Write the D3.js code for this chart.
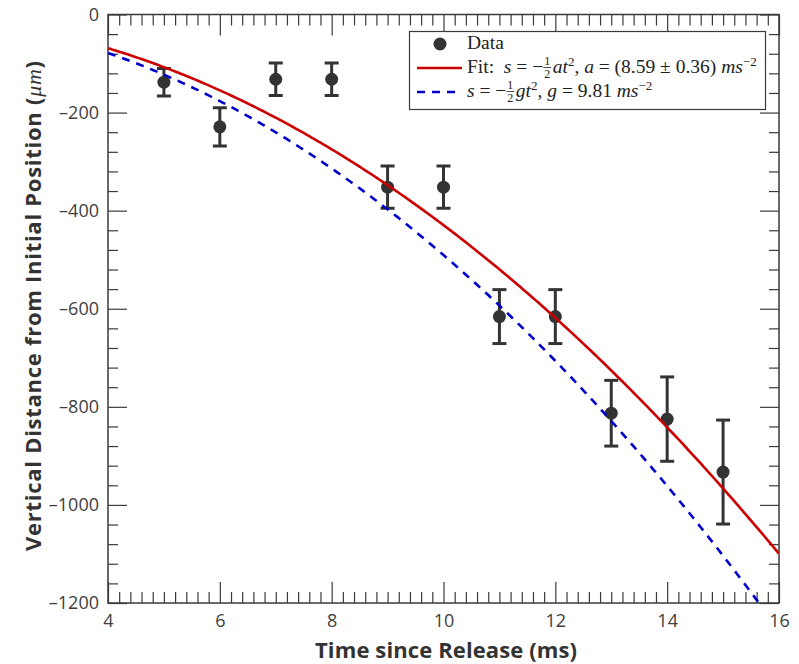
<!DOCTYPE html>
<html>
<head>
<meta charset="utf-8">
<script src="https://cdn.jsdelivr.net/npm/d3@7"></script>
<style>
  body { margin: 0; background: #fff; }
  svg { display: block; }
</style>
</head>
<body>
<svg id="chart" width="799" height="664"></svg>
<script>
// measured points (time in ms, position in um, error bar half-height in um)
var times = [5, 6, 7, 8, 9, 10, 11, 12, 13, 14, 15];
var positions = [-138, -229, -132, -132, -352, -352, -616, -616, -813, -825, -933];
var errors = [28, 39, 33, 33, 43, 43, 55, 55, 67, 86, 106];

// fit parameters from the legend (m/s^2)
var aFit = 8.59;
var gStd = 9.81;

var xTicks = [4, 6, 8, 10, 12, 14, 16];
var yTicks = [0, -200, -400, -600, -800, -1000, -1200];

var svg = d3.select("#chart");

var x = d3.scaleLinear().domain([4, 16]).range([108, 779]);
var y = d3.scaleLinear().domain([-1200, 0]).range([603, 14.5]);

var axisColor = "#3a3a3a";

// minor ticks
var xMinor = d3.range(4, 16.001, 0.2).filter(function (v) { return Math.abs(v / 2 - Math.round(v / 2)) > 1e-6; });
var yMinor = d3.range(-1200, 0.001, 40).filter(function (v) { return v % 200 != 0; });

function styleAxis(g) {
  g.select(".domain").remove();
  g.selectAll("line").attr("stroke", axisColor).attr("stroke-width", 1.2);
  g.selectAll("text").attr("fill", "#404040").style("font-family", "'Open Sans', sans-serif").style("font-size", "18px");
}

// bottom
svg.append("g").attr("transform", "translate(0,603)")
  .call(d3.axisBottom(x).tickValues(xTicks).tickSize(-21).tickPadding(11).tickFormat(d3.format("d")))
  .call(styleAxis);
svg.append("g").attr("transform", "translate(0,603)")
  .call(d3.axisBottom(x).tickValues(xMinor).tickSize(-11).tickFormat(""))
  .call(styleAxis);
// top
svg.append("g").attr("transform", "translate(0,14.5)")
  .call(d3.axisTop(x).tickValues(xTicks).tickSize(-21).tickFormat(""))
  .call(styleAxis);
svg.append("g").attr("transform", "translate(0,14.5)")
  .call(d3.axisTop(x).tickValues(xMinor).tickSize(-11).tickFormat(""))
  .call(styleAxis);
// left
svg.append("g").attr("transform", "translate(108,0)")
  .call(d3.axisLeft(y).tickValues(yTicks).tickSize(-19).tickPadding(9).tickFormat(function (d) { return d == 0 ? "0" : "\u2013" + Math.abs(d); }))
  .call(styleAxis);
svg.append("g").attr("transform", "translate(108,0)")
  .call(d3.axisLeft(y).tickValues(yMinor).tickSize(-10).tickFormat(""))
  .call(styleAxis);
// right
svg.append("g").attr("transform", "translate(779,0)")
  .call(d3.axisRight(y).tickValues(yTicks).tickSize(-19).tickFormat(""))
  .call(styleAxis);
svg.append("g").attr("transform", "translate(779,0)")
  .call(d3.axisRight(y).tickValues(yMinor).tickSize(-10).tickFormat(""))
  .call(styleAxis);

// frame
svg.append("rect")
  .attr("x", x(4)).attr("y", y(0))
  .attr("width", x(16) - x(4)).attr("height", y(-1200) - y(0))
  .attr("fill", "none").attr("stroke", axisColor).attr("stroke-width", 1.5);

svg.append("clipPath").attr("id", "clip")
  .append("rect")
  .attr("x", x(4)).attr("y", y(0))
  .attr("width", x(16) - x(4)).attr("height", y(-1200) - y(0));

var plot = svg.append("g").attr("clip-path", "url(#clip)");

// error bars + points
var dataColor = "#333333";
var pts = times.map(function (t, i) { return { t: t, s: positions[i], e: errors[i] }; });
var eb = plot.selectAll(".eb").data(pts).enter().append("g");
eb.append("line")
  .attr("x1", function (d) { return x(d.t); }).attr("x2", function (d) { return x(d.t); })
  .attr("y1", function (d) { return y(d.s + d.e); }).attr("y2", function (d) { return y(d.s - d.e); })
  .attr("stroke", dataColor).attr("stroke-width", 3);
[1, -1].forEach(function (sgn) {
  eb.append("line")
    .attr("x1", function (d) { return x(d.t) - 7; }).attr("x2", function (d) { return x(d.t) + 7; })
    .attr("y1", function (d) { return y(d.s + sgn * d.e); }).attr("y2", function (d) { return y(d.s + sgn * d.e); })
    .attr("stroke", dataColor).attr("stroke-width", 3);
});
eb.append("circle")
  .attr("cx", function (d) { return x(d.t); }).attr("cy", function (d) { return y(d.s); })
  .attr("r", 6.5).attr("fill", dataColor);

// model curves s = -1/2 a t^2  (a in m/s^2, t in ms -> um)
var tGrid = d3.range(4, 16.001, 0.05);
var line = d3.line().x(function (d) { return x(d[0]); }).y(function (d) { return y(d[1]); });

plot.append("path")
  .datum(tGrid.map(function (t) { return [t, -0.5 * gStd * t * t]; }))
  .attr("d", line).attr("fill", "none")
  .attr("stroke", "#0000cc").attr("stroke-width", 2.6).attr("stroke-dasharray", "8,7");

plot.append("path")
  .datum(tGrid.map(function (t) { return [t, -0.5 * aFit * t * t]; }))
  .attr("d", line).attr("fill", "none")
  .attr("stroke", "#cc0000").attr("stroke-width", 2.6);

// axis labels
svg.append("text")
  .attr("x", 446).attr("y", 658).attr("text-anchor", "middle")
  .attr("textLength", 262).attr("lengthAdjust", "spacing")
  .style("font-family", "'Open Sans', sans-serif").style("font-weight", "bold").style("font-size", "22px")
  .attr("fill", "#333").text("Time since Release (ms)");

var yl = svg.append("text")
  .attr("transform", "translate(41,306) rotate(-90)").attr("text-anchor", "middle")
  .attr("textLength", 490).attr("lengthAdjust", "spacing")
  .style("font-family", "'Open Sans', sans-serif").style("font-weight", "bold").style("font-size", "22px")
  .attr("fill", "#333");
yl.append("tspan").text("Vertical Distance from Initial Position (");
yl.append("tspan").style("font-family", "'Liberation Serif', serif").style("font-style", "italic").style("font-weight", "normal").text("\u03bcm");
yl.append("tspan").text(")");

// legend
var leg = svg.append("g");
leg.append("rect").attr("x", 409.5).attr("y", 31.5).attr("width", 356).attr("height", 78)
  .attr("fill", "#fff").attr("stroke", axisColor).attr("stroke-width", 1.2);

leg.append("circle").attr("cx", 440).attr("cy", 44).attr("r", 6.5).attr("fill", dataColor);
leg.append("line").attr("x1", 417).attr("x2", 462).attr("y1", 68).attr("y2", 68)
  .attr("stroke", "#cc0000").attr("stroke-width", 2.6);
leg.append("line").attr("x1", 417).attr("x2", 462).attr("y1", 92).attr("y2", 92)
  .attr("stroke", "#0000cc").attr("stroke-width", 2.6).attr("stroke-dasharray", "8,7");

var fs = 19.5;
function mathText(g, x0, yb, parts) {
  var cx = x0;
  parts.forEach(function (p) {
    if (p.frac) {
      var w = 8;
      g.append("text").attr("x", cx + w / 2).attr("y", yb - 8).attr("text-anchor", "middle")
        .style("font-family", "'Liberation Serif', serif").style("font-size", "12px").attr("fill", "#222").text("1");
      g.append("line").attr("x1", cx).attr("x2", cx + w).attr("y1", yb - 5.5).attr("y2", yb - 5.5)
        .attr("stroke", "#222").attr("stroke-width", 0.8);
      g.append("text").attr("x", cx + w / 2).attr("y", yb + 5).attr("text-anchor", "middle")
        .style("font-family", "'Liberation Serif', serif").style("font-size", "12px").attr("fill", "#222").text("2");
      cx += w + 1.5;
      return;
    }
    var t = g.append("text").attr("x", cx).attr("y", yb + (p.dy || 0))
      .style("font-family", "'Liberation Serif', serif")
      .style("font-style", p.it ? "italic" : "normal")
      .style("font-size", (p.size || fs) + "px")
      .attr("fill", "#222").attr("xml:space", "preserve").text(p.t);
    cx += t.node().getComputedTextLength() + (p.sp || 0);
  });
}

mathText(leg, 467, 49, [{ t: "Data" }]);
mathText(leg, 467, 73, [
  { t: "Fit:  " }, { t: "s", it: true }, { t: " = \u2212" }, { frac: true },
  { t: "at", it: true }, { t: "2", size: 13, dy: -7 }, { t: ", " }, { t: "a", it: true },
  { t: " = (8.59 \u00b1 0.36) " }, { t: "ms", it: true }, { t: "\u22122", size: 13, dy: -7 }
]);
mathText(leg, 467, 97, [
  { t: "s", it: true }, { t: " = \u2212" }, { frac: true },
  { t: "gt", it: true }, { t: "2", size: 13, dy: -7 }, { t: ", " }, { t: "g", it: true },
  { t: " = 9.81 " }, { t: "ms", it: true }, { t: "\u22122", size: 13, dy: -7 }
]);
</script>
</body>
</html>
